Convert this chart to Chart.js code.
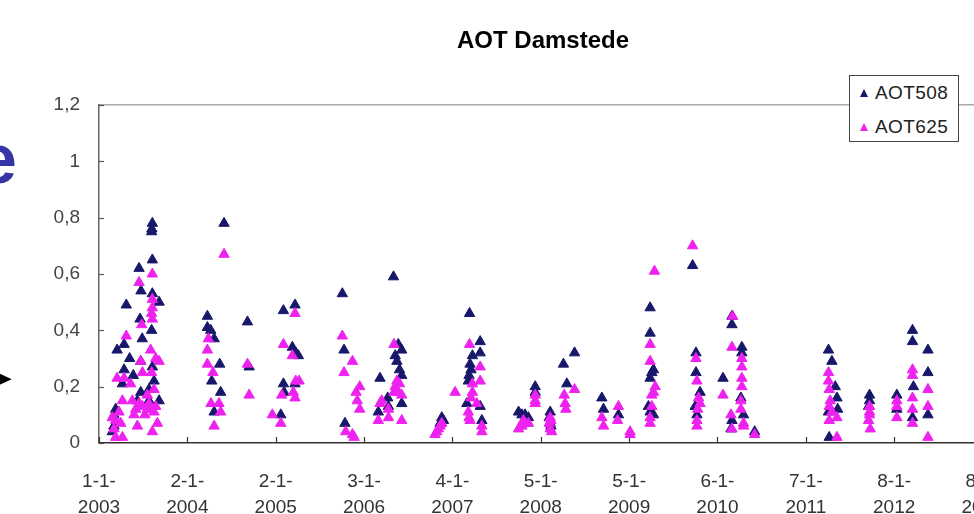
<!DOCTYPE html>
<html>
<head>
<meta charset="utf-8">
<script src="https://cdn.jsdelivr.net/npm/chart.js@4.4.1/dist/chart.umd.min.js"></script>
<style>
  html, body { margin: 0; padding: 0; background: #fff; }
  #wrap { position: relative; width: 974px; height: 514px; overflow: hidden; }
  #chart { position: absolute; left: 0; top: 0; }
  .title { position: absolute; left: 343px; width: 400px; top: 26px; text-align: center;
           font: bold 24px 'Liberation Sans', Arial, sans-serif; line-height: 28px; color: #000; }
  .slide-e { position: absolute; left: -22px; top: 124px; font: bold 70px 'Liberation Sans', Arial, sans-serif; line-height: 1; color: #3535a5; }
  .slide-arrow { position: absolute; left: -8px; top: 366px; font: 25px 'DejaVu Sans', sans-serif; line-height: 1; color: #000; }
  .legend { position: absolute; left: 849px; top: 75px; width: 108px; height: 65px; border: 1px solid #444; background: #fff;
            font: 19px 'Liberation Sans', Arial, sans-serif; letter-spacing: 0.4px; color: #222; }
  .legend .row { position: absolute; left: 10px; white-space: nowrap; }
  .legend .tri { display: inline-block; width: 0; height: 0; border-left: 4px solid transparent; border-right: 4px solid transparent;
                 border-bottom: 8px solid; margin-right: 7px; vertical-align: 2px; }
</style>
</head>
<body>
<div id="wrap">
  <canvas id="chart" width="1117" height="514"></canvas>
  <div class="title">AOT Damstede</div>
  <span class="slide-e">e</span>
  <span class="slide-arrow">&#10148;</span>
  <div class="legend">
    <div class="row" style="top:6px"><span class="tri" style="color:#17186a"></span>AOT508</div>
    <div class="row" style="top:40px"><span class="tri" style="color:#ee22ee"></span>AOT625</div>
  </div>
</div>
<script>
// x values are days since 1-1-2003
const tickLabels = ['1-1-2003', '2-1-2004', '2-1-2005', '3-1-2006', '4-1-2007', '5-1-2008',
                    '5-1-2009', '6-1-2010', '7-1-2011', '8-1-2012', '8-1-2013', '9-1-2014'];
const yTickValues = [0, 0.2, 0.4, 0.6, 0.8, 1, 1.2];

const aot508Days = [
  221, 219, 218, 221, 166, 174, 221, 249, 113, 170, 179, 218, 104, 75, 127, 173, 104, 142, 97, 221,
  173, 249, 207, 228, 69, 62, 62, 159, 207, 55,
  449, 449, 463, 477, 500, 467, 504, 477, 518, 615, 622,
  764, 812, 801, 815, 826, 764, 812, 767, 753,
  1008, 1015, 1019,
  1164, 1157, 1199, 1220, 1254, 1240, 1227, 1234, 1245, 1254, 1254, 1196,
  1420, 1427, 1413, 1535, 1579, 1547, 1579, 1537, 1541, 1533, 1524, 1579, 1586, 1530,
  1738, 1752, 1765, 1779, 1807, 1807, 1869, 1869, 1872, 1865, 1924, 1938, 1970,
  2083, 2090, 2152,
  2283, 2283, 2290, 2297, 2283, 2276, 2283, 2297, 2459,
  2473, 2473, 2490, 2470, 2477, 2585,
  2622, 2622, 2663, 2663, 2659, 2670, 2622, 2618, 2716,
  3022, 3036, 3057, 3060, 3022, 3025, 3050,
  3192, 3192, 3188,
  3305, 3305, 3370, 3370, 3374, 3370, 3434, 3434, 3434
];
const aot508Values = [
  0.78, 0.76, 0.75, 0.65, 0.62, 0.54, 0.53, 0.50, 0.49, 0.44, 0.37, 0.40, 0.35, 0.33, 0.30, 0.29, 0.26, 0.24, 0.21, 0.27,
  0.18, 0.15, 0.19, 0.22, 0.12, 0.10, 0.06, 0.15, 0.15, 0.04,
  0.45, 0.41, 0.40, 0.37, 0.28, 0.22, 0.18, 0.11, 0.78, 0.43, 0.27,
  0.47, 0.49, 0.34, 0.32, 0.31, 0.21, 0.21, 0.18, 0.10,
  0.53, 0.33, 0.07,
  0.23, 0.11, 0.13, 0.59, 0.33, 0.35, 0.31, 0.29, 0.26, 0.24, 0.14, 0.16,
  0.09, 0.08, 0.07, 0.46, 0.36, 0.31, 0.32, 0.28, 0.26, 0.24, 0.14, 0.13, 0.08, 0.22,
  0.11, 0.10, 0.10, 0.09, 0.20, 0.18, 0.11, 0.07, 0.06, 0.09, 0.28, 0.21, 0.32,
  0.16, 0.12, 0.10,
  0.48, 0.39, 0.25, 0.26, 0.23, 0.13, 0.11, 0.10, 0.63,
  0.32, 0.25, 0.18, 0.13, 0.10, 0.23,
  0.42, 0.45, 0.34, 0.32, 0.16, 0.10, 0.08, 0.05, 0.04,
  0.33, 0.29, 0.16, 0.12, 0.11, 0.02, 0.20,
  0.17, 0.15, 0.13,
  0.17, 0.12, 0.40, 0.36, 0.20, 0.09, 0.33, 0.25, 0.10
];

const aot625Days = [
  221, 166, 221, 221, 218, 177, 113, 221, 214, 235, 173, 75, 104, 131, 180, 218, 249, 97, 138, 166,
  180, 200, 214, 228, 83, 69, 90, 159, 242, 221, 69, 97, 152, 190, 207, 235, 145, 200, 228, 62, 55,
  453, 449, 449, 472, 464, 497, 504, 477, 518, 615, 622,
  812, 764, 801, 815, 829, 757, 812, 718, 753, 805,
  1008, 1050, 1015, 1080, 1070, 1080, 1022, 1050, 1057, 1065,
  1171, 1157, 1199, 1222, 1227, 1240, 1254, 1254, 1222, 1245, 1164, 1234, 1199,
  1406, 1399, 1413, 1420, 1392, 1475, 1535, 1579, 1579, 1547, 1547, 1541, 1530, 1537, 1586, 1586, 1533, 1565,
  1738, 1752, 1765, 1779, 1758, 1807, 1807, 1807, 1869, 1869, 1875, 1865, 1872, 1927, 1931, 1934, 1970,
  2083, 2090, 2152, 2148, 2200, 2200,
  2301, 2283, 2283, 2297, 2290, 2283, 2283, 2304, 2290, 2459,
  2473, 2477, 2484, 2480, 2477, 2477, 2490, 2585,
  2625, 2622, 2663, 2663, 2663, 2663, 2659, 2670, 2670, 2618, 2622, 2716, 2659,
  3022, 3022, 3025, 3029, 3036, 3057, 3025, 3057, 3025,
  3192, 3192, 3195, 3188, 3192,
  3305, 3305, 3305, 3370, 3370, 3370, 3370, 3370, 3434, 3434, 3434
];
const aot625Values = [
  0.60, 0.57, 0.51, 0.48, 0.46, 0.42, 0.38, 0.44, 0.33, 0.30, 0.29, 0.23, 0.23, 0.21, 0.25, 0.25, 0.29, 0.15, 0.15, 0.14,
  0.13, 0.12, 0.12, 0.11, 0.11, 0.08, 0.07, 0.06, 0.07, 0.04, 0.02, 0.02, 0.12, 0.10, 0.14, 0.13, 0.10, 0.17, 0.19, 0.05, 0.09,
  0.37, 0.33, 0.28, 0.25, 0.14, 0.14, 0.11, 0.06, 0.67, 0.28, 0.17,
  0.46, 0.35, 0.31, 0.22, 0.22, 0.17, 0.16, 0.10, 0.07, 0.18,
  0.38, 0.29, 0.25, 0.20, 0.15, 0.12, 0.04, 0.03, 0.02, 0.18,
  0.15, 0.08, 0.09, 0.35, 0.20, 0.18, 0.17, 0.08, 0.18, 0.21, 0.14, 0.22, 0.12,
  0.05, 0.04, 0.06, 0.07, 0.03, 0.18, 0.35, 0.27, 0.22, 0.21, 0.18, 0.16, 0.11, 0.08, 0.06, 0.04, 0.09, 0.14,
  0.05, 0.06, 0.07, 0.07, 0.08, 0.17, 0.14, 0.15, 0.09, 0.05, 0.04, 0.07, 0.08, 0.17, 0.14, 0.12, 0.19,
  0.09, 0.06, 0.13, 0.08, 0.04, 0.03,
  0.61, 0.35, 0.29, 0.18, 0.17, 0.09, 0.07, 0.20, 0.13, 0.70,
  0.30, 0.22, 0.16, 0.12, 0.08, 0.06, 0.14, 0.17,
  0.45, 0.34, 0.30, 0.27, 0.23, 0.20, 0.15, 0.07, 0.06, 0.10, 0.05, 0.03, 0.12,
  0.25, 0.22, 0.19, 0.15, 0.11, 0.09, 0.08, 0.02, 0.13,
  0.13, 0.10, 0.05, 0.08, 0.11,
  0.15, 0.13, 0.09, 0.26, 0.24, 0.16, 0.12, 0.07, 0.19, 0.13, 0.02
];

// turn "d-m-yyyy" into days since 1-1-2003
function labelToDay(label) {
    const [d, m, y] = label.split('-').map(Number);
    return Math.round((Date.UTC(y, m - 1, d) - Date.UTC(2003, 0, 1)) / 86400000);
}
const tickDays = tickLabels.map(labelToDay);

function toPoints(days, values) {
    return days.map((d, i) => ({ x: d, y: values[i] }));
}

// short tick marks drawn inside the plot, like the original
const innerTicks = {
    id: 'innerTicks',
    beforeDatasetsDraw(chart) {
        const { ctx, chartArea, scales } = chart;
        ctx.save();
        ctx.lineWidth = 1.2;
        ctx.strokeStyle = '#555';
        yTickValues.forEach(v => {
            const y = Math.round(scales.y.getPixelForValue(v)) + 0.5;
            ctx.beginPath();
            ctx.moveTo(chartArea.left, y);
            ctx.lineTo(chartArea.left + 5, y);
            ctx.stroke();
        });
        ctx.strokeStyle = '#333';
        tickDays.forEach(d => {
            const x = Math.round(scales.x.getPixelForValue(d)) + 0.5;
            ctx.beginPath();
            ctx.moveTo(x, chartArea.bottom);
            ctx.lineTo(x, chartArea.bottom - 6);
            ctx.stroke();
        });
        ctx.restore();
    }
};

const fontFamily = "'Liberation Sans', Arial, sans-serif";

const ctx = document.getElementById('chart').getContext('2d');
const chart = new Chart(ctx, {
    type: 'scatter',
    data: {
        datasets: [{
            label: 'AOT508',
            data: toPoints(aot508Days, aot508Values),
            pointStyle: 'triangle',
            pointRadius: 6,
            borderWidth: 1,
            backgroundColor: '#17186a',
            borderColor: '#17186a',
            order: 2
        }, {
            label: 'AOT625',
            data: toPoints(aot625Days, aot625Values),
            pointStyle: 'triangle',
            pointRadius: 6,
            borderWidth: 1,
            backgroundColor: '#ee22ee',
            borderColor: '#ee22ee',
            order: 1
        }]
    },
    options: {
        responsive: false,
        animation: false,
        layout: { padding: { left: 0, right: 0, top: 105, bottom: 0 } },
        plugins: {
            legend: { display: false },
            tooltip: { enabled: false },
            title: { display: false }
        },
        scales: {
            x: {
                type: 'linear',
                min: tickDays[0],
                max: tickDays[tickDays.length - 1],
                afterBuildTicks: scale => { scale.ticks = tickDays.map(v => ({ value: v })); },
                afterFit: scale => { scale.height = 71; },
                grid: { display: false, drawTicks: false },
                border: { display: true, color: '#333', width: 1.5 },
                ticks: {
                    autoSkip: false,
                    maxRotation: 0,
                    padding: 25,
                    color: '#333',
                    font: { family: fontFamily, size: 19, lineHeight: 1.4 },
                    callback: (value, index) => {
                        const label = tickLabels[index];
                        const cut = label.lastIndexOf('-') + 1;
                        return [label.slice(0, cut), label.slice(cut)];
                    }
                }
            },
            y: {
                min: 0,
                max: 1.2,
                afterBuildTicks: scale => { scale.ticks = yTickValues.map(v => ({ value: v })); },
                afterFit: scale => { scale.width = 99; },
                grid: {
                    drawTicks: false,
                    color: c => Math.abs(c.tick.value - 1.2) < 1e-6 ? '#aaa' : 'rgba(0,0,0,0)',
                    lineWidth: 1.5
                },
                border: { display: true, color: '#666', width: 1.5 },
                ticks: {
                    padding: 19,
                    color: '#444',
                    font: { family: fontFamily, size: 19 },
                    callback: v => String(v).replace('.', ',')
                }
            }
        }
    },
    plugins: [innerTicks]
});
</script>
</body>
</html>
